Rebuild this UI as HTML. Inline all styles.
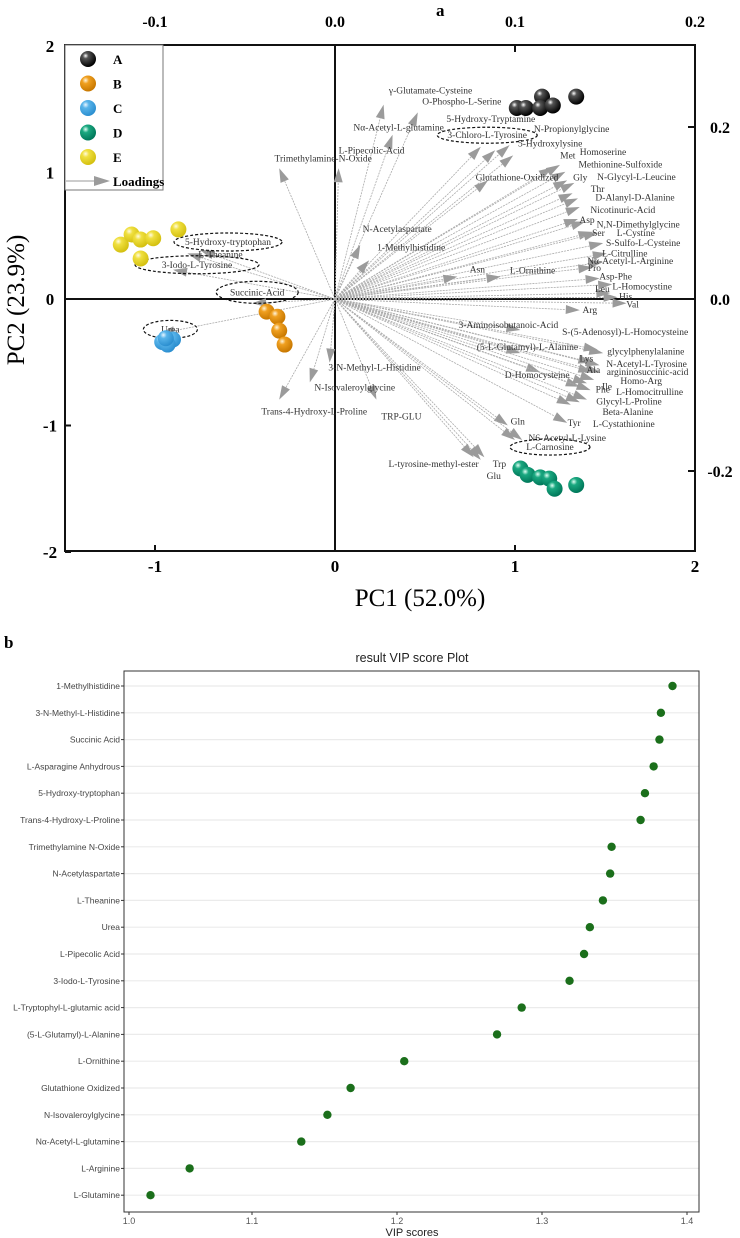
<!DOCTYPE html>
<html><head><meta charset="utf-8"><style>
html,body{margin:0;padding:0;background:#fff;}
svg{display:block;font-family:"Liberation Serif",serif;}
.vip{font-family:"Liberation Sans",sans-serif;}
</style></head><body>
<svg id="svg" width="740" height="1238" viewBox="0 0 740 1238" xmlns="http://www.w3.org/2000/svg">
<defs>
<radialGradient id="gA" cx="0.35" cy="0.3" r="0.7"><stop offset="0" stop-color="#fff"/><stop offset="0.25" stop-color="#555"/><stop offset="1" stop-color="#000"/></radialGradient>
<radialGradient id="gB" cx="0.35" cy="0.3" r="0.7"><stop offset="0" stop-color="#fff6e0"/><stop offset="0.3" stop-color="#f0a020"/><stop offset="1" stop-color="#c87800"/></radialGradient>
<radialGradient id="gC" cx="0.35" cy="0.3" r="0.7"><stop offset="0" stop-color="#eaf6ff"/><stop offset="0.3" stop-color="#58b4ea"/><stop offset="1" stop-color="#2c8fd0"/></radialGradient>
<radialGradient id="gD" cx="0.35" cy="0.3" r="0.7"><stop offset="0" stop-color="#e0fff4"/><stop offset="0.3" stop-color="#1aa880"/><stop offset="1" stop-color="#00785a"/></radialGradient>
<radialGradient id="gE" cx="0.35" cy="0.3" r="0.7"><stop offset="0" stop-color="#fffbe0"/><stop offset="0.3" stop-color="#f0e040"/><stop offset="1" stop-color="#d4c010"/></radialGradient>
</defs>
<text x="436" y="16" font-size="17" font-weight="bold">a</text>
<text x="4" y="648" font-size="17" font-weight="bold">b</text>
<g id="biplot"></g>
<g id="vip" class="vip"></g>
</svg>
<script>
// ---------- PCA biplot data ----------
const groupNames = ['A','B','C','D','E'];
const groupA = [[1.01,1.51],[1.06,1.51],[1.15,1.60],[1.14,1.51],[1.21,1.53],[1.34,1.60]];
const groupB = [[-0.38,-0.10],[-0.32,-0.14],[-0.31,-0.25],[-0.28,-0.36]];
const groupC = [[-0.96,-0.34],[-0.90,-0.32],[-0.93,-0.36],[-0.94,-0.31]];
const groupD = [[1.03,-1.34],[1.07,-1.39],[1.14,-1.41],[1.19,-1.42],[1.22,-1.50],[1.34,-1.47]];
const groupE = [[-1.19,0.43],[-1.13,0.51],[-1.08,0.47],[-1.01,0.48],[-0.87,0.55],[-1.08,0.32]];
const pcTicks = [-2,-1,0,1,2];
const pcXTicks = [-1,0,1,2];
const loadTicksX = ['-0.1','0.0','0.1','0.2'];
const loadTicksY = ['0.2','0.0','-0.2'];
const loadingNames = ['γ-Glutamate-Cysteine','O-Phospho-L-Serine','Nα-Acetyl-L-glutamine','L-Pipecolic-Acid','Trimethylamine-N-Oxide','5-Hydroxy-Tryptamine','3-Chloro-L-Tyrosine','N-Propionylglycine','5-Hydroxylysine','Met','Homoserine','Methionine-Sulfoxide','Glutathione-Oxidized','Gly','N-Glycyl-L-Leucine','Thr','D-Alanyl-D-Alanine','Nicotinuric-Acid','Asp','N,N-Dimethylglycine','Ser','L-Cystine','S-Sulfo-L-Cysteine','L-Citrulline','Nα-Acetyl-L-Arginine','Pro','Asp-Phe','L-Homocystine','Leu','His','Val','Arg','N-Acetylaspartate','1-Methylhistidine','Asn','L-Ornithine','3-Aminoisobutanoic-Acid','S-(5-Adenosyl)-L-Homocysteine','glycylphenylalanine','(5-L-Glutamyl)-L-Alanine','Lys','N-Acetyl-L-Tyrosine','Ala','argininosuccinic-acid','D-Homocysteine','Ile','Homo-Arg','Phe','L-Homocitrulline','Glycyl-L-Proline','Beta-Alanine','L-Cystathionine','Tyr','Gln','N6-Acetyl-L-Lysine','L-Carnosine','L-tyrosine-methyl-ester','Trp','Glu','TRP-GLU','3-N-Methyl-L-Histidine','N-Isovaleroylglycine','Trans-4-Hydroxy-L-Proline','5-Hydroxy-tryptophan','L-Theanine','3-Iodo-L-Tyrosine','Succinic-Acid','Urea'];
const loadingX = [0.027,0.046,0.032,0.002,-0.031,0.081,0.089,0.097,0.099,0.121,0.125,0.128,0.085,0.129,0.133,0.132,0.135,0.136,0.135,0.139,0.143,0.146,0.149,0.151,0.149,0.143,0.147,0.154,0.153,0.157,0.162,0.136,0.014,0.019,0.068,0.092,0.103,0.149,0.146,0.103,0.143,0.147,0.143,0.147,0.114,0.140,0.144,0.136,0.142,0.140,0.136,0.131,0.129,0.096,0.104,0.100,0.077,0.083,0.081,0.023,-0.003,-0.014,-0.031,-0.075,-0.082,-0.090,-0.046,-0.097];
const loadingY = [0.226,0.217,0.191,0.152,0.152,0.177,0.173,0.179,0.167,0.153,0.156,0.148,0.138,0.138,0.135,0.123,0.117,0.107,0.093,0.090,0.078,0.077,0.065,0.053,0.043,0.037,0.024,0.017,0.007,0.002,-0.005,-0.013,0.063,0.045,0.026,0.026,-0.036,-0.063,-0.059,-0.063,-0.074,-0.077,-0.085,-0.085,-0.085,-0.098,-0.094,-0.102,-0.106,-0.117,-0.120,-0.123,-0.144,-0.147,-0.164,-0.164,-0.184,-0.184,-0.187,-0.117,-0.074,-0.097,-0.117,0.057,0.053,0.034,-0.005,-0.040];
// label placement offsets (layout only)
const labelOff = [[47,-14],[44,-11],[6,-7],[33,-18],[44,-10],[10,-28],[-8,-15],[62,-16],[37,-12],[15,-12],[43,-13],[55,-7],[29,-3],[13,-3],[62,-6],[25,-4],[57,-1],[43,3],[9,1],[53,3],[6,1],[38,0],[40,0],[18,0],[27,-1],[2,1],[16,-2],[30,2],[-8,-4],[8,-1],[6,1],[10,0],[37,-16],[42,-13],[20,-7],[32,-6],[-12,-5],[22,-21],[48,2],[7,-6],[-6,-4],[47,-1],[1,-2],[48,0],[-3,3],[20,3],[47,1],[23,3],[59,2],[42,2],[48,10],[53,19],[7,0],[10,-4],[45,-2],[35,7],[-40,7],[15,7],[13,16],[25,17],[45,5],[45,5],[35,12],[28,-8],[33,1],[24,-5],[5,-11],[10,-4]];
const ellipseFor = {'3-Chloro-L-Tyrosine':[50,8],'L-Carnosine':[40,8],'5-Hydroxy-tryptophan':[54,9],'3-Iodo-L-Tyrosine':[62,9],'Succinic-Acid':[41,11],'Urea':[27,9]};

// ---------- VIP data ----------
const vipNames = ['1-Methylhistidine','3-N-Methyl-L-Histidine','Succinic Acid','L-Asparagine Anhydrous','5-Hydroxy-tryptophan','Trans-4-Hydroxy-L-Proline','Trimethylamine N-Oxide','N-Acetylaspartate','L-Theanine','Urea','L-Pipecolic Acid','3-Iodo-L-Tyrosine','L-Tryptophyl-L-glutamic acid','(5-L-Glutamyl)-L-Alanine','L-Ornithine','Glutathione Oxidized','N-Isovaleroylglycine','Nα-Acetyl-L-glutamine','L-Arginine','L-Glutamine'];
const vipValues = [1.390,1.382,1.381,1.377,1.371,1.368,1.348,1.347,1.342,1.333,1.329,1.319,1.286,1.269,1.205,1.168,1.152,1.134,1.057,1.030];
const vipTicks = [1.0,1.1,1.2,1.3,1.4];

const NS='http://www.w3.org/2000/svg';
function mk(tag, attrs, parent){const e=document.createElementNS(NS,tag);for(const k in attrs)e.setAttribute(k,attrs[k]);parent.appendChild(e);return e;}

// ---------- Biplot ----------
const bp=document.getElementById('biplot');
const L=65,R=695,T=45,B=551;
const px=v=>335+v*180, py=v=>299-v*126.5;
const lx=v=>335+v*1800, ly=v=>299-v*860;
let e;
e=mk('rect',{x:L,y:T,width:R-L,height:B-T,fill:'none',stroke:'#111','stroke-width':2},bp);


e=mk('line',{x1:px(0),y1:T,x2:px(0),y2:B,stroke:'#111','stroke-width':2},bp);


e=mk('line',{x1:L,y1:py(0),x2:R,y2:py(0),stroke:'#111','stroke-width':2},bp);


pcTicks.forEach(t=>{
  e=mk('text',{x:50,y:py(t)+6,'font-size':17,'font-weight':'bold','text-anchor':'middle'},bp);e.textContent=t;
  
  
  mk('line',{x1:L,y1:py(t),x2:L+6,y2:py(t),stroke:'#111','stroke-width':2},bp);
});
pcXTicks.forEach(t=>{
  e=mk('text',{x:px(t),y:572,'font-size':17,'font-weight':'bold','text-anchor':'middle'},bp);e.textContent=t;
  
  
  mk('line',{x1:px(t),y1:B,x2:px(t),y2:B-6,stroke:'#111','stroke-width':2},bp);
});
loadTicksX.forEach(t=>{
  e=mk('text',{x:lx(parseFloat(t)),y:27,'font-size':16,'font-weight':'bold','text-anchor':'middle'},bp);e.textContent=t;
  
  
  mk('line',{x1:lx(parseFloat(t)),y1:T,x2:lx(parseFloat(t)),y2:T+7,stroke:'#111','stroke-width':2},bp);
});
loadTicksY.forEach(t=>{
  e=mk('text',{x:720,y:ly(parseFloat(t))+6,'font-size':16,'font-weight':'bold','text-anchor':'middle'},bp);e.textContent=t;
  
  
  mk('line',{x1:R,y1:ly(parseFloat(t)),x2:R-7,y2:ly(parseFloat(t)),stroke:'#111','stroke-width':2},bp);
});
e=mk('text',{x:420,y:606,'font-size':25,'text-anchor':'middle'},bp);e.textContent='PC1 (52.0%)';


e=mk('text',{x:0,y:0,'font-size':25,'text-anchor':'middle',transform:'translate(24,300) rotate(-90)'},bp);e.textContent='PC2 (23.9%)';



// arrows
loadingNames.forEach((n,i)=>{
  const x2=lx(loadingX[i]), y2=ly(loadingY[i]);
  const ang=Math.atan2(y2-299,x2-335);
  const bx=x2-14*Math.cos(ang), by=y2-14*Math.sin(ang);
  e=mk('line',{x1:335,y1:299,x2:bx,y2:by,stroke:'#aaa','stroke-width':0.8,'stroke-dasharray':'2,1'},bp);
  
  
  const nx=-Math.sin(ang)*4.5, ny=Math.cos(ang)*4.5;
  e=mk('polygon',{points:`${x2},${y2} ${bx+nx},${by+ny} ${bx-nx},${by-ny}`,fill:'#9b9b9b'},bp);
  
  
});
loadingNames.forEach((n,i)=>{
  const x2=lx(loadingX[i]), y2=ly(loadingY[i]);
  const cx=x2+labelOff[i][0], cy=y2+labelOff[i][1];
  e=mk('text',{x:cx,y:cy+3,'font-size':9.5,'text-anchor':'middle',fill:'#333'},bp);e.textContent=n;
  
  
  if(ellipseFor[n]){
    e=mk('ellipse',{cx:cx,cy:cy,rx:ellipseFor[n][0],ry:ellipseFor[n][1],fill:'none',stroke:'#111','stroke-width':1.2,'stroke-dasharray':'3,2'},bp);
    
    
  }
});
// score spheres
[groupA,groupB,groupC,groupD,groupE].forEach((g,gi)=>{
  g.forEach(p=>{
    e=mk('circle',{cx:px(p[0]),cy:py(p[1]),r:8,fill:`url(#g${groupNames[gi]})`},bp);
    
    
  });
});
// legend
e=mk('rect',{x:L,y:T,width:98,height:145,fill:'#fff',stroke:'#777','stroke-width':1},bp);


groupNames.forEach((n,i)=>{
  const y=59+i*24.5;
  e=mk('circle',{cx:88,cy:y,r:8,fill:`url(#g${n})`},bp);
  
  
  e=mk('text',{x:113,y:y+5,'font-size':13,'font-weight':'bold'},bp);e.textContent=n;
  
  
});
e=mk('line',{x1:66,y1:181,x2:94,y2:181,stroke:'#999','stroke-width':1},bp);


e=mk('polygon',{points:'110,181 94,176 94,186',fill:'#9b9b9b'},bp);


e=mk('text',{x:113,y:186,'font-size':13,'font-weight':'bold'},bp);e.textContent='Loadings';



// ---------- VIP ----------
const vp=document.getElementById('vip');
const VL=124,VR=699,VT=671,VB=1212;
const vx=v=>252+(v-1.1)*1450;
const vy=i=>686+i*26.8;
e=mk('text',{x:412,y:662,'font-size':12.5,'text-anchor':'middle',fill:'#222'},vp);e.textContent='result VIP score Plot';


vipNames.forEach((n,i)=>{
  e=mk('line',{x1:VL,y1:vy(i),x2:VR,y2:vy(i),stroke:'#ebebeb','stroke-width':1.2},vp);
  
  
  mk('line',{x1:VL-3,y1:vy(i),x2:VL,y2:vy(i),stroke:'#333','stroke-width':1},vp);
  e=mk('text',{x:VL-4,y:vy(i)+3,'font-size':8.5,'text-anchor':'end',fill:'#444'},vp);e.textContent=n;
  
  
});
e=mk('rect',{x:VL,y:VT,width:VR-VL,height:VB-VT,fill:'none',stroke:'#333','stroke-width':1},vp);


vipTicks.forEach(t=>{
  let x=Math.max(vx(t),VL+5);
  mk('line',{x1:x,y1:VB,x2:x,y2:VB+3,stroke:'#333','stroke-width':1},vp);
  e=mk('text',{x:x,y:1224,'font-size':9,'text-anchor':'middle',fill:'#555'},vp);e.textContent=t.toFixed(1);
  
  
});
e=mk('text',{x:412,y:1236,'font-size':11,'text-anchor':'middle',fill:'#222'},vp);e.textContent='VIP scores';


vipValues.forEach((v,i)=>{
  e=mk('circle',{cx:vx(v),cy:vy(i),r:4.2,fill:'#1b6f1b'},vp);
  
  
});
</script>
</body></html>
